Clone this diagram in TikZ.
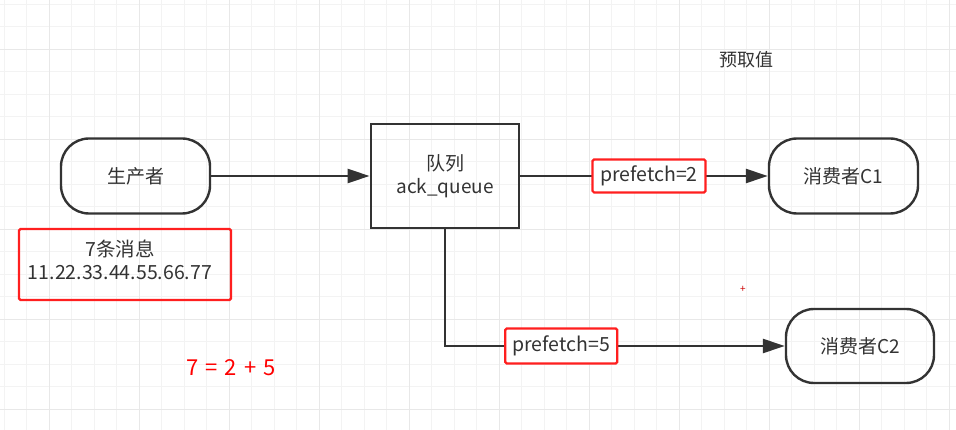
\documentclass[tikz,border=0pt]{standalone}
\usepackage{fontspec}
\setmainfont{Noto Sans CJK SC}
\usetikzlibrary{arrows.meta}
\definecolor{ink}{HTML}{333333}
\definecolor{tagred}{HTML}{FF1F1F}
\definecolor{gridminor}{HTML}{F3F3F3}
\definecolor{gridmajor}{HTML}{E8E8E8}
\tikzset{term/.style={draw=ink,line width=2.4pt,rounded corners=28pt,minimum width=149pt,minimum height=75pt,text=ink,font=\fontsize{19}{23}\selectfont},
queuebox/.style={draw=ink,line width=2.8pt,minimum width=148pt,minimum height=104pt,align=center,text=ink,font=\fontsize{19}{23}\selectfont},
tag/.style={draw=tagred,line width=2.2pt,fill=white,rounded corners=1.5pt,inner sep=0pt,minimum width=113pt,minimum height=33pt,text=ink,font=\fontsize{19.5}{23}\selectfont},
flow/.style={draw=ink,line width=2.4pt,-{Triangle[length=22pt,width=14pt]}}}

\begin{document}
\begin{tikzpicture}[x=1pt,y=-1pt]
\useasboundingbox (0,0) rectangle (956,430);
\foreach \i in {0,...,42} \draw[gridminor,line width=0.8pt] ({4.2+22.5*\i},0) -- ({4.2+22.5*\i},430);
\foreach \i in {0,...,18} \draw[gridminor,line width=0.8pt] (0,{4.2+22.5*\i}) -- (956,{4.2+22.5*\i});
\foreach \i in {0,...,10} \draw[gridmajor,line width=0.8pt] ({49.3+90*\i},0) -- ({49.3+90*\i},430);
\foreach \i in {0,...,4} \draw[gridmajor,line width=0.8pt] (0,{49.3+90*\i}) -- (956,{49.3+90*\i});

\node[term] (p) at (135.5,176) {生产者};
\node[queuebox] (q) at (445,176) {队列\\ack\_queue};
\node[term] (c1) at (843.5,176) {消费者C1};
\node[term,minimum width=148pt,minimum height=74pt] (c2) at (860,346) {消费者C2};

\node[draw=tagred,line width=2.2pt,rounded corners=1.5pt,minimum width=212pt,minimum height=71pt] (msgs) at (125,264.5) {};
\node[align=center,text=ink,font=\fontsize{19.5}{23}\selectfont] (msgtext) at (120,259.5) {7条消息\\11.22.33.44.55.66.77};

\draw[flow] (p) -- (q);
\draw[flow] (q.east) -- node[tag,pos=0.52] (t2) {prefetch=2} (c1.west);
\draw[flow] (q.south) |- node[tag,pos=0.671,minimum width=112pt,minimum height=35pt] (t5) {prefetch=5} (c2.west);

\node[text=red,font=\fontsize{22}{24}\selectfont] (sum) at (231,368) {7\hspace{7pt}=\hspace{7pt}2\hspace{7pt}+\hspace{7pt}5};
\node[text=ink,font=\fontsize{18}{22}\selectfont] (pre) at (746,60) {预取值};
\node[text=red!80!black,font=\fontsize{10}{10}\selectfont] (mark) at (743,289) {+};
\end{tikzpicture}
\end{document}
